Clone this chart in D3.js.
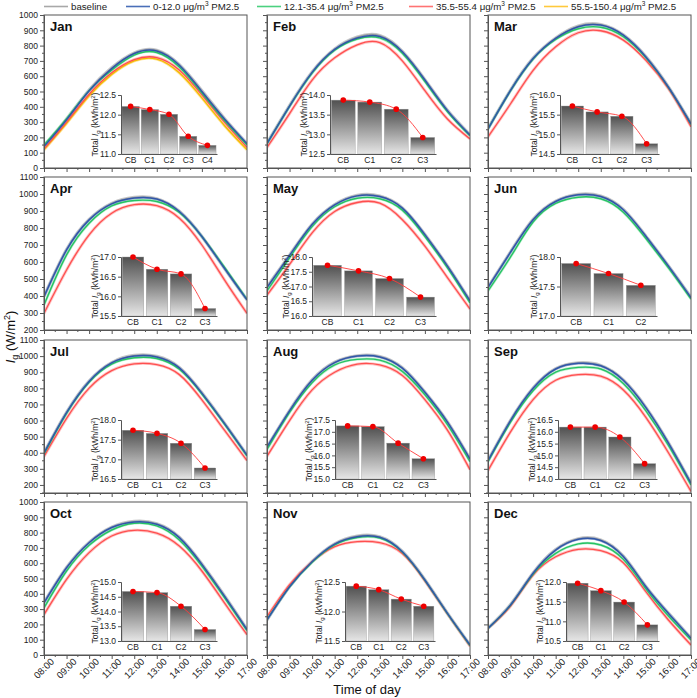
<!DOCTYPE html>
<html>
<head>
<meta charset="utf-8">
<script src="https://cdn.jsdelivr.net/npm/d3@7"></script>
<style>
  body { margin: 0; background: #fff; }
  svg { font-family: Arial, "Liberation Sans", sans-serif; }
</style>
</head>
<body>
<svg id="chart" width="697" height="698"></svg>
<script>
// ---- data ----
const months = ["Jan", "Feb", "Mar", "Apr", "May", "Jun", "Jul", "Aug", "Sep", "Oct", "Nov", "Dec"];
const hours = [8, 9, 10, 11, 12, 13, 14, 15, 16, 17];
const hourLabels = ["08:00", "09:00", "10:00", "11:00", "12:00", "13:00", "14:00", "15:00", "16:00", "17:00"];

// irradiance I_g (W/m2) at each full hour, one row per month
const baseline = [
  [145, 320, 510, 655, 752, 770, 675, 505, 324, 160],
  [162, 408, 628, 778, 856, 866, 763, 578, 377, 218],
  [258, 510, 718, 850, 928, 938, 870, 728, 530, 290],
  [398, 673, 850, 945, 980, 972, 898, 750, 563, 377],
  [455, 640, 822, 938, 992, 988, 918, 762, 577, 372],
  [452, 660, 851, 958, 998, 988, 909, 752, 577, 392],
  [400, 651, 845, 960, 1004, 998, 929, 772, 584, 386],
  [435, 662, 852, 962, 1002, 997, 927, 777, 592, 362],
  [352, 602, 802, 922, 958, 942, 852, 682, 462, 212],
  [343, 572, 736, 835, 873, 858, 770, 595, 388, 168],
  [230, 448, 612, 727, 778, 772, 677, 492, 274, 66],
  [176, 330, 537, 690, 760, 752, 646, 448, 274, 110]
];
const pm0to12 = [
  [140, 315, 505, 650, 748, 765, 672, 500, 320, 158],
  [160, 405, 625, 775, 850, 860, 760, 575, 375, 215],
  [255, 507, 715, 847, 923, 934, 868, 726, 528, 288],
  [396, 671, 848, 942, 976, 970, 897, 750, 563, 377],
  [450, 638, 820, 936, 989, 985, 917, 761, 576, 371],
  [450, 658, 849, 956, 995, 985, 907, 751, 576, 390],
  [398, 649, 843, 958, 1000, 995, 927, 770, 582, 384],
  [435, 660, 850, 960, 1000, 995, 925, 775, 590, 360],
  [350, 600, 800, 920, 955, 940, 850, 680, 460, 210],
  [341, 570, 734, 833, 870, 855, 767, 592, 385, 166],
  [229, 446, 610, 725, 773, 769, 675, 490, 272, 65],
  [174, 327, 534, 686, 756, 748, 643, 446, 272, 109]
];
const pm12to35 = [
  [150, 322, 505, 640, 738, 755, 660, 490, 310, 150],
  [158, 402, 620, 770, 843, 850, 750, 565, 368, 210],
  [255, 505, 712, 840, 910, 920, 858, 720, 525, 285],
  [347, 642, 828, 930, 962, 956, 891, 750, 569, 380],
  [430, 625, 808, 925, 975, 972, 905, 750, 566, 360],
  [430, 630, 835, 945, 981, 972, 893, 738, 565, 382],
  [392, 645, 838, 950, 990, 985, 918, 765, 578, 380],
  [420, 650, 835, 945, 980, 975, 905, 760, 575, 345],
  [345, 590, 785, 900, 930, 920, 830, 660, 445, 200],
  [308, 549, 717, 817, 861, 844, 752, 581, 375, 160],
  [232, 445, 606, 720, 768, 764, 672, 488, 270, 62],
  [174, 325, 528, 664, 726, 719, 625, 432, 255, 98]
];
const pm35to55 = [
  [125, 300, 482, 622, 708, 722, 640, 478, 300, 135],
  [134, 355, 575, 720, 805, 820, 700, 505, 320, 190],
  [204, 420, 638, 792, 884, 897, 836, 704, 518, 270],
  [298, 553, 760, 887, 937, 931, 858, 700, 495, 298],
  [405, 586, 771, 897, 950, 946, 849, 693, 508, 323],
  null,
  [377, 613, 801, 910, 952, 947, 885, 728, 540, 352],
  [378, 600, 790, 900, 950, 945, 880, 730, 540, 295],
  [290, 530, 730, 850, 885, 875, 790, 620, 400, 160],
  [264, 494, 669, 778, 815, 796, 712, 549, 341, 133],
  [250, 460, 610, 708, 741, 734, 664, 485, 268, 58],
  [174, 320, 523, 642, 691, 682, 603, 414, 229, 65]
];
const pm55to150 = [
  [120, 292, 472, 612, 700, 712, 622, 458, 278, 120],
  null, null, null, null, null, null, null, null, null, null, null
];

// inset: total I_g (kWh/m2) per class
const insetCats = [
  ["CB", "C1", "C2", "C3", "C4"], ["CB", "C1", "C2", "C3"], ["CB", "C1", "C2", "C3"],
  ["CB", "C1", "C2", "C3"], ["CB", "C1", "C2", "C3"], ["CB", "C1", "C2"],
  ["CB", "C1", "C2", "C3"], ["CB", "C1", "C2", "C3"], ["CB", "C1", "C2", "C3"],
  ["CB", "C1", "C2", "C3"], ["CB", "C1", "C2", "C3"], ["CB", "C1", "C2", "C3"]
];
const insetTotals = [
  [12.21, 12.13, 12.01, 11.45, 11.22],
  [13.87, 13.82, 13.64, 12.92],
  [15.72, 15.57, 15.46, 14.76],
  [17.0, 16.69, 16.57, 15.69],
  [17.72, 17.53, 17.27, 16.64],
  [17.89, 17.72, 17.52],
  [17.74, 17.66, 17.41, 16.78],
  [17.25, 17.22, 16.52, 15.86],
  [16.2, 16.2, 15.78, 14.65],
  [14.68, 14.64, 14.18, 13.39],
  [12.43, 12.37, 12.21, 12.09],
  [11.97, 11.78, 11.49, 10.91]
];
const insetRanges = [
  [11.0, 12.5], [12.5, 14.0], [14.5, 16.0], [15.5, 17.0], [16.0, 18.0], [17.0, 18.0],
  [16.5, 18.0], [15.0, 17.5], [14.0, 16.5], [13.0, 15.0], [11.5, 12.5], [10.5, 12.0]
];

const rowDomains = [[0, 1000], [200, 1100], [150, 1100], [0, 1000]];
const rowTicks = [[0, 1000], [200, 1100], [200, 1100], [0, 1000]];

const legendNames = ["baseline", "0-12.0 μg/m", "12.1-35.4 μg/m", "35.5-55.4 μg/m", "55.5-150.4 μg/m"];

// ---- layout ----
const colX = [44, 267, 488];
const rowY = [15, 177, 340, 502];
const pw = 203, ph = 153;
const insetLeft = [77, 63, 72, 77, 45, 72, 77, 68, 70, 77, 78, 78];
const insetRight = [173, 169, 171, 173, 169, 169, 173, 169, 169, 173, 168, 171];
const insetTop = 80, insetH = 59;

const series = [
  { data: baseline, band: "#b3b3b3", line: "#9a9a9a", bw: 3.2, lw: 1.0 },
  { data: pm55to150, band: "#ffd966", line: "#f5b800", bw: 3, lw: 1.3 },
  { data: pm35to55, band: "#ffadad", line: "#ff4f4f", bw: 3, lw: 1.3 },
  { data: pm12to35, band: "#9fe8b8", line: "#27c265", bw: 2.6, lw: 1.4 },
  { data: pm0to12, band: "#8da6d8", line: "#3157a8", bw: 2.4, lw: 1.5 }
];
const legendColors = ["#a8a8a8", "#4a6fb8", "#4cd17f", "#ff7373", "#ffc93c"];

const svg = d3.select("#chart");
const defs = svg.append("defs");
const grad = defs.append("linearGradient").attr("id", "barGrad")
  .attr("x1", 0).attr("y1", 0).attr("x2", 0).attr("y2", 1);
grad.append("stop").attr("offset", "0%").attr("stop-color", "#505050");
grad.append("stop").attr("offset", "100%").attr("stop-color", "#e6e6e6");

// legend
const legX = [44, 126, 257, 409, 544];
const leg = svg.append("g").attr("font-size", 9.7).attr("fill", "#222");
legendNames.forEach((name, k) => {
  leg.append("line").attr("x1", legX[k]).attr("x2", legX[k] + 24).attr("y1", 6.5).attr("y2", 6.5)
    .attr("stroke", legendColors[k]).attr("stroke-width", 1.6);
  const t = leg.append("text").attr("x", legX[k] + 27).attr("y", 10);
  t.append("tspan").text(name);
  if (k > 0) {
    t.append("tspan").attr("font-size", 6.5).attr("dy", -4).text("3");
    t.append("tspan").attr("dy", 4).text(" PM2.5");
  }
});

const x = d3.scaleLinear().domain([8, 17]).range([0, pw]);

months.forEach((m, i) => {
  const col = i % 3, row = Math.floor(i / 3);
  const g = svg.append("g").attr("transform", `translate(${colX[col]},${rowY[row]})`);
  const y = d3.scaleLinear().domain(rowDomains[row]).range([ph, 0]);

  defs.append("clipPath").attr("id", "clip" + i)
    .append("rect").attr("width", pw).attr("height", ph);

  const line = d3.line()
    .x((d, k) => x(hours[k]))
    .y(d => y(d))
    .curve(d3.curveNatural);

  const plot = g.append("g").attr("clip-path", `url(#clip${i})`);
  series.forEach(s => {
    const vals = s.data[i];
    if (!vals) return;
    plot.append("path").attr("d", line(vals)).attr("fill", "none")
      .attr("stroke", s.band).attr("stroke-width", s.bw).attr("stroke-opacity", 0.75);
  });
  series.forEach(s => {
    const vals = s.data[i];
    if (!vals) return;
    plot.append("path").attr("d", line(vals)).attr("fill", "none")
      .attr("stroke", s.line).attr("stroke-width", s.lw);
  });

  // frame
  g.append("rect").attr("width", pw).attr("height", ph)
    .attr("fill", "none").attr("stroke", "#555").attr("stroke-width", 1);

  // y axis
  const [t0, t1] = rowTicks[row];
  const yAxis = d3.axisLeft(y).tickValues(d3.range(t0, t1 + 1, 100)).tickSize(4).tickPadding(2)
    .tickFormat(col === 0 ? d3.format("d") : "");
  const ya = g.append("g").call(yAxis);
  ya.selectAll("text").attr("font-size", 8.5).attr("fill", "#222");
  ya.select(".domain").attr("stroke", "#555");
  ya.selectAll(".tick line").attr("stroke", "#555");
  const yMinor = d3.range(rowDomains[row][0], rowDomains[row][1] + 1, 50).filter(v => v % 100 !== 0);
  g.append("g").selectAll("line").data(yMinor).join("line")
    .attr("x1", -2).attr("x2", 0).attr("y1", d => y(d)).attr("y2", d => y(d)).attr("stroke", "#555");

  // x axis
  const xAxis = d3.axisBottom(x).tickValues(hours).tickSize(4).tickFormat("");
  const xa = g.append("g").attr("transform", `translate(0,${ph})`).call(xAxis);
  xa.select(".domain").attr("stroke", "#555");
  xa.selectAll(".tick line").attr("stroke", "#555");
  g.append("g").selectAll("line").data(hours.slice(0, -1).map(h => h + 0.5)).join("line")
    .attr("x1", d => x(d)).attr("x2", d => x(d)).attr("y1", ph).attr("y2", ph + 2).attr("stroke", "#555");
  if (row === 3) {
    g.append("g").selectAll("text").data(hours).join("text")
      .attr("transform", (d) => `translate(${x(d) + 0.5},${ph + 14}) rotate(-45)`)
      .attr("text-anchor", "middle").attr("dominant-baseline", "middle")
      .attr("font-size", 9.5).attr("fill", "#222")
      .text((d, k) => hourLabels[k]);
  }

  // month label
  g.append("text").attr("x", 6).attr("y", 16).attr("font-size", 13).attr("font-weight", "bold")
    .attr("fill", "#111").text(m);

  // inset bar chart
  const iw = insetRight[i] - insetLeft[i];
  const ig = g.append("g").attr("transform", `translate(${insetLeft[i]},${insetTop})`);
  const cats = insetCats[i];
  const vals = insetTotals[i];
  const xb = d3.scaleBand().domain(cats).range([0, iw]).paddingInner(0.1).paddingOuter(0.05);
  const yb = d3.scaleLinear().domain(insetRanges[i]).range([insetH, 0]).clamp(true);

  ig.selectAll("rect.bar").data(vals).join("rect").attr("class", "bar")
    .attr("x", (d, k) => xb(cats[k])).attr("width", xb.bandwidth())
    .attr("y", d => yb(d)).attr("height", d => insetH - yb(d))
    .attr("fill", "url(#barGrad)").attr("stroke", "#9a9a9a").attr("stroke-width", 0.4);

  const iy = d3.axisLeft(yb)
    .tickValues(d3.range(insetRanges[i][0], insetRanges[i][1] + 0.01, 0.5))
    .tickFormat(d3.format(".1f")).tickSize(3).tickPadding(2);
  const iya = ig.append("g").call(iy);
  iya.selectAll("text").attr("font-size", 8.5).attr("fill", "#222");
  iya.selectAll(".domain, .tick line").attr("stroke", "#555");
  const ix = d3.axisBottom(xb).tickSize(0).tickPadding(3);
  const ixa = ig.append("g").attr("transform", `translate(0,${insetH})`).call(ix);
  ixa.selectAll("text").attr("font-size", 8.5).attr("fill", "#222");
  ixa.select(".domain").attr("stroke", "#555");

  const yl = ig.append("text").attr("transform", `translate(-23,${insetH / 2}) rotate(-90)`)
    .attr("text-anchor", "middle").attr("font-size", 8.5).attr("fill", "#222");
  yl.append("tspan").text("Total ");
  yl.append("tspan").attr("font-style", "italic").text("I");
  yl.append("tspan").attr("font-size", 6).attr("dy", 2).text("g");
  yl.append("tspan").attr("dy", -2).text(" (kWh/m");
  yl.append("tspan").attr("font-size", 6).attr("dy", -3).text("2");
  yl.append("tspan").attr("dy", 3).text(")");

  const pts = vals.map((v, k) => [xb(cats[k]) + xb.bandwidth() / 2, yb(v)]);
  ig.append("path").attr("d", d3.line().curve(d3.curveMonotoneX)(pts))
    .attr("fill", "none").attr("stroke", "#ff3b3b").attr("stroke-width", 0.9);
  ig.selectAll("circle").data(pts).join("circle")
    .attr("cx", d => d[0]).attr("cy", d => d[1]).attr("r", 2.8).attr("fill", "#ee0000");
});

// axis titles
const yt = svg.append("text").attr("transform", "translate(15,337) rotate(-90)")
  .attr("text-anchor", "middle").attr("font-size", 13).attr("fill", "#111");
yt.append("tspan").attr("font-style", "italic").text("I");
yt.append("tspan").attr("font-size", 9).attr("dy", 3).text("g");
yt.append("tspan").attr("dy", -3).text(" (W/m");
yt.append("tspan").attr("font-size", 9).attr("dy", -5).text("2");
yt.append("tspan").attr("dy", 5).text(")");

svg.append("text").attr("x", 367).attr("y", 694).attr("text-anchor", "middle")
  .attr("font-size", 13).attr("fill", "#111").text("Time of day");
</script>
</body>
</html>
